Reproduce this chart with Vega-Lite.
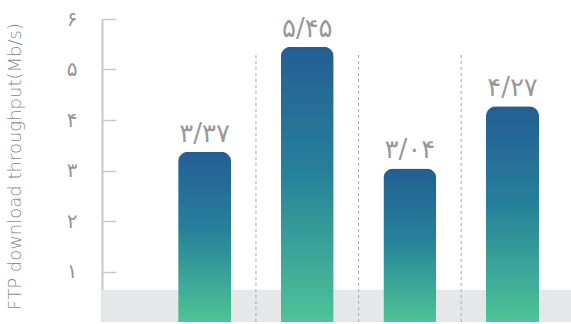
{
  "$schema": "https://vega.github.io/schema/vega-lite/v6.json",
  "autosize": {"type": "none"},
  "padding": {"left": 102, "top": 19, "right": 0, "bottom": 0},
  "width": 469,
  "height": 303,
  "background": "white",
  "config": {"view": {"stroke": null}},
  "datasets": {
    "bars": [
      {"idx": 1, "value": 3.37, "label": "۳/۳۷"},
      {"idx": 2, "value": 5.45, "label": "۵/۴۵"},
      {"idx": 3, "value": 3.04, "label": "۳/۰۴"},
      {"idx": 4, "value": 4.27, "label": "۴/۲۷"}
    ],
    "separators": [{"pos": 1.5}, {"pos": 2.5}, {"pos": 3.5}]
  },
  "layer": [
    {
      "data": {"values": [{}]},
      "mark": {"type": "rect", "color": "#e6e7e9", "clip": true},
      "encoding": {
        "x": {"datum": 0, "type": "quantitative", "scale": {"domain": [0, 4.57], "nice": false, "zero": false, "padding": 0}, "axis": null},
        "x2": {"datum": 5},
        "y": {"datum": 0, "type": "quantitative", "scale": {"domain": [0, 6], "nice": false},
          "axis": {
            "values": [0, 1, 2, 3, 4, 5, 6],
            "labelExpr": "['۰','۱','۲','۳','۴','۵','۶'][datum.value]",
            "labelFont": "DejaVu Sans",
            "labelFontSize": 20,
            "labelColor": "#959595",
            "labelPadding": 39,
            "tickSize": -14,
            "tickColor": "#c8c8c8",
            "tickWidth": 1.5,
            "domainColor": "#c8c8c8",
            "domainWidth": 2,
            "grid": false,
            "title": "FTP download throughput(Mb/s)",
            "titleFont": "DejaVu Sans",
            "titleFontWeight": 200,
            "titleFontSize": 18,
            "titleColor": "#8a8a8a",
            "titleX": -87,
            "titleY": 147,
            "titleAlign": "center",
            "titleBaseline": "middle",
            "titleAngle": -90
          }},
        "y2": {"datum": 0.64}
      }
    },
    {
      "data": {"name": "separators"},
      "mark": {"type": "rule", "color": "#a8a8a8", "strokeDash": [3, 3], "strokeWidth": 1},
      "encoding": {
        "x": {"field": "pos", "type": "quantitative"},
        "y": {"datum": 0},
        "y2": {"datum": 5.35}
      }
    },
    {
      "data": {"name": "bars"},
      "mark": {
        "type": "bar",
        "width": 53,
        "cornerRadiusTopLeft": 10,
        "cornerRadiusTopRight": 10,
        "color": {
          "gradient": "linear",
          "x1": 0, "y1": 0, "x2": 0, "y2": 1,
          "stops": [
            {"offset": 0, "color": "#245e94"},
            {"offset": 0.45, "color": "#26809a"},
            {"offset": 1, "color": "#4dc497"}
          ]
        }
      },
      "encoding": {
        "x": {"field": "idx", "type": "quantitative"},
        "y": {"field": "value", "type": "quantitative"}
      }
    },
    {
      "data": {"name": "bars"},
      "mark": {"type": "text", "font": "DejaVu Sans", "fontSize": 26, "color": "#999999", "baseline": "alphabetic", "dy": -10},
      "encoding": {
        "x": {"field": "idx", "type": "quantitative"},
        "y": {"field": "value", "type": "quantitative"},
        "text": {"field": "label"}
      }
    }
  ]
}
